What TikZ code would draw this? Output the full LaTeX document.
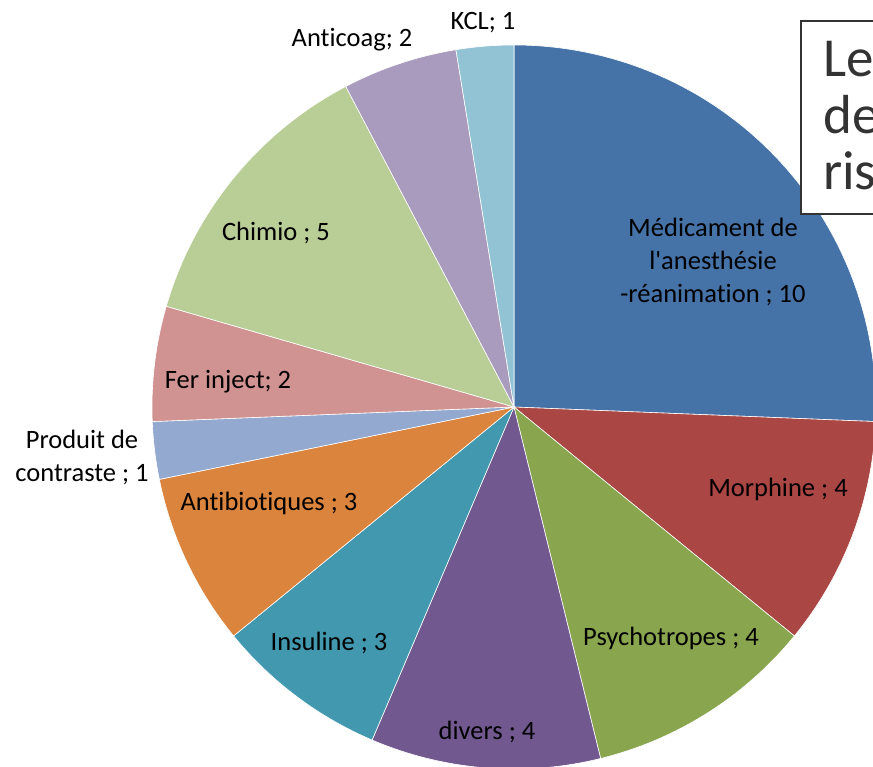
\documentclass[tikz,border=0pt]{standalone}
\usepackage{fontspec}
\setmainfont{Carlito}[Ligatures=NoCommon]
\definecolor{cMed}{HTML}{4572A7}
\definecolor{cMorph}{HTML}{AA4643}
\definecolor{cPsy}{HTML}{89A54E}
\definecolor{cDiv}{HTML}{71588F}
\definecolor{cIns}{HTML}{4198AF}
\definecolor{cAnti}{HTML}{DB843D}
\definecolor{cProd}{HTML}{93A9CF}
\definecolor{cFer}{HTML}{D19392}
\definecolor{cChim}{HTML}{B9CD96}
\definecolor{cCoag}{HTML}{A99BBD}
\definecolor{cKcl}{HTML}{91C3D5}
\begin{document}
\begin{tikzpicture}[x=1pt, y=1pt,
  every node/.style={font=\fontsize{26.5}{33}\selectfont, inner sep=0pt},
  slice/.style={draw=white, line width=0.6pt},
  lbl/.style={align=center, text=black},
  titlebox/.style={draw=black!80, line width=1.5pt, fill=white}]
\clip (-514,-359) rectangle (359,407);
% pie, 39 cases in all
\foreach \a/\b/\col in {0/10/cMed, 10/14/cMorph, 14/18/cPsy, 18/22/cDiv, 22/25/cIns,
  25/28/cAnti, 28/29/cProd, 29/31/cFer, 31/36/cChim, 36/38/cCoag, 38/39/cKcl}
  \filldraw[slice, fill=\col] (0,0) -- ({90-\a*360/39}:362) arc[start angle={90-\a*360/39}, end angle={90-\b*360/39}, radius=362] -- cycle;
\node[lbl] (med) at (199,145) {Médicament de\\l\textquotesingle anesthésie\\-réanimation ; 10};
\node[lbl] (morph) at (264,-82) {Morphine ; 4};
\node[lbl] (psy) at (157,-231) {Psychotropes ; 4};
\node[lbl] (div) at (-27,-325) {divers ; 4};
\node[lbl] (ins) at (-185,-236) {Insuline ; 3};
\node[lbl] (anti) at (-245,-96) {Antibiotiques ; 3};
\node[lbl] (prod) at (-432,-50) {Produit de\\contraste ; 1};
\node[lbl] (fer) at (-286,25) {Fer inject; 2};
\node[lbl] (chim) at (-238,174) {Chimio ; 5};
\node[lbl] (coag) at (-162,367) {Anticoag; 2};
\node[lbl] (kcl) at (-31,384) {KCL; 1};
% title box, cut at the right
\draw[titlebox] (287,193) rectangle (420,386);
\node[anchor=base west, align=left, text=black!80, font=\fontsize{55}{56.5}\selectfont] (title) at (309,217) {Le\\de\\ris};
\end{tikzpicture}
\end{document}
